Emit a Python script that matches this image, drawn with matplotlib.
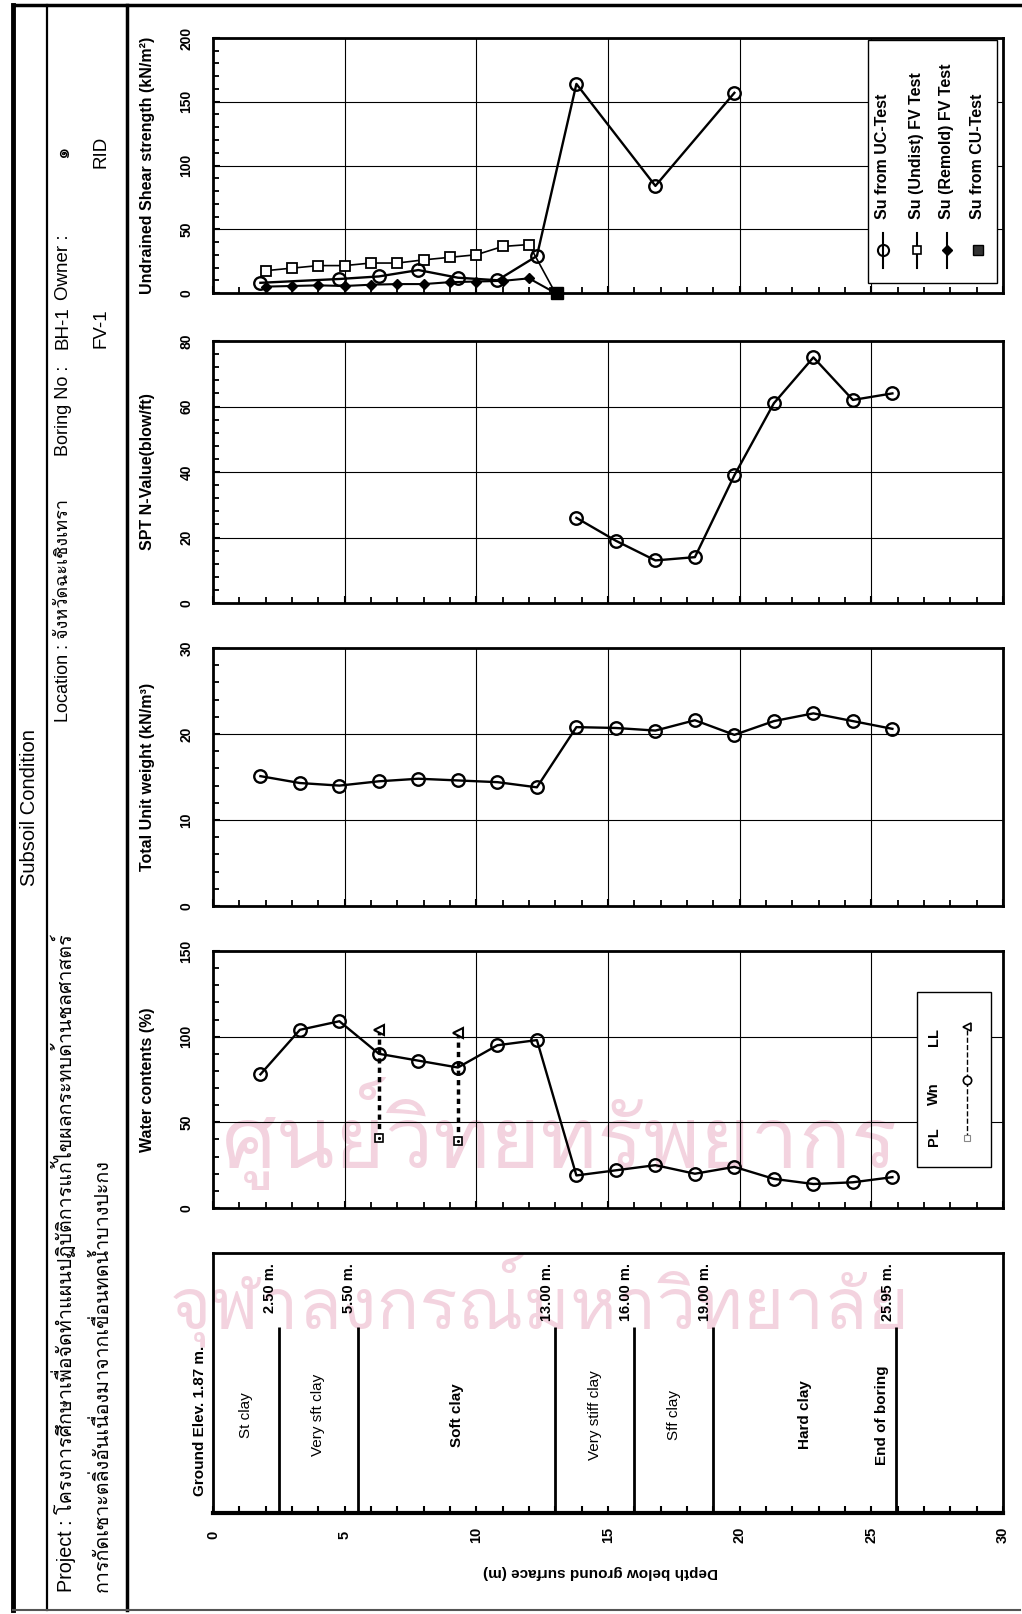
import matplotlib
matplotlib.use("Agg")
import matplotlib.pyplot as plt
import numpy as np
from matplotlib import font_manager
from matplotlib.ft2font import FT2Font
from matplotlib.patches import Rectangle
from matplotlib.ticker import MultipleLocator

# ---- values (depth in m) ----
sample_depth = [1.8, 3.3, 4.8, 6.3, 7.8, 9.3, 10.8, 12.3, 13.8, 15.3, 16.8, 18.3, 19.8, 21.3, 22.8, 24.3, 25.8]
water_content = [78, 104, 109, 90, 86, 82, 95, 98, 19, 22, 25, 20, 24, 17, 14, 15, 18]
unit_weight = [15.1, 14.3, 14.0, 14.5, 14.8, 14.6, 14.4, 13.8, 20.8, 20.7, 20.4, 21.6, 19.9, 21.5, 22.4, 21.5, 20.6]

atterberg_depth = [6.3, 9.3]
plastic_limit = [41, 39]
liquid_limit = [104, 102]

spt_depth = [13.8, 15.3, 16.8, 18.3, 19.8, 21.3, 22.8, 24.3, 25.8]
spt_n = [26, 19, 13, 14, 39, 61, 75, 62, 64]

uc_depth = [1.8, 4.8, 6.3, 7.8, 9.3, 10.8, 12.3, 13.8, 16.8, 19.8]
uc_su = [8, 11, 13, 18, 12, 10, 29, 164, 84, 157]

fv_depth = [2, 3, 4, 5, 6, 7, 8, 9, 10, 11, 12, 13]
fv_undist = [17.5, 19.5, 21.5, 21.5, 23.5, 23.5, 26, 28, 30, 36.5, 38, 0]
fv_remold = [5, 5.5, 6, 5.5, 6.5, 7, 7, 8.5, 9, 9.5, 11.5, 0]

cu_depth = [13.05]
cu_su = [0]

layer_bottom = [2.50, 5.50, 13.00, 16.00, 19.00, 25.95]
layer_name = ["St clay", "Very sft clay", "Soft clay", "Very stiff clay", "Sff clay", "Hard clay"]
layer_bold = [False, False, True, False, False, True]

project_line1 = "Project : โครงการศึกษาเพื่อจัดทำแผนปฏิบัติการแก้ไขผลกระทบด้านชลศาสตร์"
project_line2 = "การกัดเซาะตลิ่งอันเนื่องมาจากเขื่อนทดน้ำบางปะกง"
location = "Location : จังหวัดฉะเชิงเทรา"


def find_thai_family():
    for f in font_manager.fontManager.ttflist:
        try:
            cmap = FT2Font(f.fname).get_charmap()
        except Exception:
            continue
        if 0x0E01 in cmap and 0x0E32 in cmap:
            return f.name
    return None


thai = find_thai_family()
plt.rcParams['font.family'] = ['Liberation Sans'] + ([thai] if thai else []) + ['DejaVu Sans']

W, H = 1022, 1614
fig = plt.figure(figsize=(W / 100, H / 100), dpi=100)

# background axes in pixel coords for frame, header and watermark
deco = fig.add_axes([0, 0, 1, 1], zorder=0)
deco.set_xlim(0, W)
deco.set_ylim(H, 0)
deco.axis('off')

X0, X1 = 213, 1003  # depth 0 .. 30 m


def panel(top, bottom):
    return fig.add_axes([X0 / W, 1 - bottom / H, (X1 - X0) / W, (bottom - top) / H], zorder=2)


def setup(ax, ymax, ystep, yminor, label):
    ax.set_facecolor('none')
    ax.set_xlim(0, 30)
    ax.set_ylim(0, ymax)
    ax.xaxis.set_major_locator(MultipleLocator(5))
    ax.xaxis.set_minor_locator(MultipleLocator(1))
    ax.set_yticks(np.arange(0, ymax + 1, ystep))
    ax.yaxis.set_minor_locator(MultipleLocator(yminor))
    ax.grid(True, which='major', color='black', lw=0.8)
    ax.tick_params(which='both', direction='in', top=False, right=False, color='black')
    ax.tick_params(which='major', length=5, width=1.5)
    ax.tick_params(which='minor', length=4, width=1.3)
    ax.tick_params(axis='x', labelbottom=False)
    ax.tick_params(axis='y', labelrotation=90, pad=14, labelsize=10)
    plt.setp(ax.get_yticklabels(), fontweight='bold', va='center')
    for sp in ax.spines.values():
        sp.set_linewidth(2)
    ax.set_ylabel(label, fontsize=11.5, fontweight='bold')
    ax.yaxis.set_label_coords(-0.074, 0.5)


# ---- Undrained shear strength ----
ax1 = panel(38, 293)
setup(ax1, 200, 50, 10, "Undrained Shear strength (kN/m²)")
ax1.plot(uc_depth, uc_su, '-o', color='black', lw=1.7, ms=9, mfc='none', mew=1.7, zorder=4)
ax1.plot(fv_depth, fv_undist, '-s', color='black', lw=1.2, ms=6.5, mfc='white', mew=1.3, zorder=3)
ax1.plot(fv_depth, fv_remold, '-D', color='black', lw=1.5, ms=5, mfc='black', zorder=3)
ax1.plot(cu_depth, cu_su, 's', color='black', ms=8, clip_on=False, zorder=5)

ax1.add_patch(Rectangle((0.829, 0.039), 0.163, 0.953, transform=ax1.transAxes,
                        facecolor='white', edgecolor='black', lw=1.0, zorder=6))
leg_x = [0.848, 0.891, 0.929, 0.968]
leg_txt = ["Su from UC-Test", "Su (Undist) FV Test", "Su (Remold) FV Test", "Su from CU-Test"]
leg_style = [dict(marker='o', ms=8, mfc='none', mew=1.5), dict(marker='s', ms=6, mfc='white', mew=1.2),
             dict(marker='D', ms=5, mfc='black'), dict(marker='s', ms=7, mfc='#333333')]
for i in range(4):
    if i < 3:
        ax1.plot([leg_x[i], leg_x[i]], [0.098, 0.235], transform=ax1.transAxes, color='black', lw=1.5, zorder=7)
    ax1.plot([leg_x[i]], [0.17], transform=ax1.transAxes, color='black', ls='none', zorder=8, **leg_style[i])
    ax1.text(leg_x[i], 0.29, leg_txt[i], transform=ax1.transAxes, rotation=90, ha='center', va='bottom',
             fontsize=11.5, fontweight='bold', zorder=8)

# ---- SPT ----
ax2 = panel(341, 603)
setup(ax2, 80, 20, 4, "SPT N-Value(blow/ft)")
ax2.plot(spt_depth, spt_n, '-o', color='black', lw=1.7, ms=9, mfc='none', mew=1.7)

# ---- Unit weight ----
ax3 = panel(648, 906)
setup(ax3, 30, 10, 2, "Total Unit weight (kN/m³)")
ax3.plot(sample_depth, unit_weight, '-o', color='black', lw=1.7, ms=9, mfc='none', mew=1.7)

# ---- Water content ----
ax4 = panel(951, 1208)
setup(ax4, 150, 50, 10, "Water contents (%)")
for d, pl, ll in zip(atterberg_depth, plastic_limit, liquid_limit):
    ax4.plot([d, d], [pl, ll], color='black', lw=2.5, ls=(0, (1.5, 1.2)), zorder=2)
ax4.plot(atterberg_depth, plastic_limit, 's', color='black', ms=6, mfc='white', mew=1.2, zorder=3)
ax4.plot(atterberg_depth, plastic_limit, '.', color='black', ms=2.5, zorder=4)
ax4.plot(atterberg_depth, liquid_limit, '<', color='black', ms=7, mfc='white', mew=1.5, zorder=3)
ax4.plot(sample_depth, water_content, '-o', color='black', lw=1.7, ms=9, mfc='none', mew=1.7, zorder=4)

ax4.add_patch(Rectangle((0.891, 0.16), 0.094, 0.68, transform=ax4.transAxes,
                        facecolor='white', edgecolor='black', lw=1.0, zorder=6))
ax4.plot([0.954, 0.954], [0.272, 0.704], transform=ax4.transAxes, color='black', lw=1.0, ls='--', zorder=7)
ax4.plot([0.954], [0.272], 's', transform=ax4.transAxes, color='#888888', ms=5, mfc='white', mew=0.8, zorder=8)
ax4.plot([0.954], [0.498], 'o', transform=ax4.transAxes, color='black', ms=6, mfc='white', mew=1.2, zorder=8)
ax4.plot([0.954], [0.704], '<', transform=ax4.transAxes, color='black', ms=6, mfc='white', mew=1.2, zorder=8)
for lab, yy in zip(["PL", "Wn", "LL"], [0.277, 0.446, 0.667]):
    ax4.text(0.913, yy, lab, transform=ax4.transAxes, rotation=90, ha='center', va='center',
             fontsize=10.5, fontweight='bold', zorder=8)

# ---- soil layers ----
axL = panel(1253, 1513)
axL.set_facecolor('none')
axL.set_xlim(0, 30)
axL.set_ylim(0, 1)
axL.set_yticks([])
axL.xaxis.set_major_locator(MultipleLocator(5))
axL.xaxis.set_minor_locator(MultipleLocator(1))
axL.tick_params(axis='x', which='both', direction='in', length=5, width=1.5, top=False)
axL.tick_params(axis='x', labelrotation=90, pad=16, labelsize=10.5)
plt.setp(axL.get_xticklabels(), fontweight='bold', va='center')
for sp in axL.spines.values():
    sp.set_linewidth(2)
axL.spines['bottom'].set_linewidth(3)
axL.vlines(layer_bottom, 0, 0.715, colors='black', lw=2)
for d in layer_bottom:
    axL.text(d - 0.33, 0.962, f"{d:.2f} m.", rotation=90, ha='center', va='top', fontsize=10.5, fontweight='bold')
tops = [0] + layer_bottom[:-1]
for top, bot, name, bold in zip(tops, layer_bottom, layer_name, layer_bold):
    axL.text((top + bot) / 2, 0.377, name, rotation=90, ha='center', va='center', fontsize=11,
             fontweight='bold' if bold else 'normal')
axL.text(layer_bottom[-1] - 0.53, 0.377, "End of boring", rotation=90, ha='center', va='center',
         fontsize=11, fontweight='bold')
axL.text(-0.5, 0.354, "Ground Elev. 1.87 m.", rotation=90, ha='center', va='center', fontsize=11,
         fontweight='bold', clip_on=False)
deco.text(600, 1572, "Depth below ground surface (m)", rotation=180, ha='center', va='center',
          fontsize=11, fontweight='bold')

# ---- frame and header strip ----
deco.plot([13, 1020], [5, 5], color='black', lw=2.5)
deco.plot([13, 13], [5, 1610], color='black', lw=3.5)
deco.plot([47, 47], [5, 1610], color='black', lw=1.6)
deco.plot([127, 127], [5, 1610], color='black', lw=2.5)
deco.plot([13, 1020], [1610, 1610], color='#555555', lw=1.5)

hs = 14.2
deco.text(30, 808, "Subsoil Condition", rotation=90, ha='center', va='center', fontsize=14.5)
deco.text(63, 1592, project_line1, rotation=90, ha='center', va='bottom', fontsize=hs)
deco.text(101, 1592, project_line2, rotation=90, ha='center', va='bottom', fontsize=hs)
deco.text(63, 722, location, rotation=90, ha='center', va='bottom', fontsize=13)
deco.text(63, 456, "Boring No :", rotation=90, ha='center', va='bottom', fontsize=13)
deco.text(63, 328, "BH-1", rotation=90, ha='center', va='center', fontsize=13.5)
deco.text(63, 300, "Owner :", rotation=90, ha='center', va='bottom', fontsize=13.5)
deco.text(63, 152, "๑", rotation=90, ha='center', va='center', fontsize=hs)
deco.text(101, 328, "FV-1", rotation=90, ha='center', va='center', fontsize=13.5)
deco.text(101, 152, "RID", rotation=90, ha='center', va='center', fontsize=13.5)

# faint library watermark
deco.text(560, 1133, "ศูนย์วิทยทรัพยากร", ha='center', va='center', fontsize=62, color='#f3d3df', zorder=0)
deco.text(540, 1300, "จุฬาลงกรณ์มหาวิทยาลัย", ha='center', va='center', fontsize=51, color='#f3d3df', zorder=0)

fig.savefig("out.png", dpi=100)
